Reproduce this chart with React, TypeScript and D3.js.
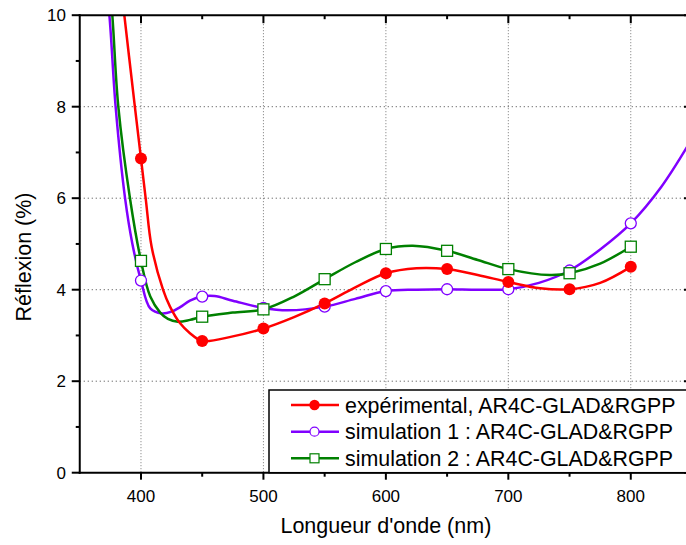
import React from "react";
import * as d3 from "d3";

// ---- data ----
const markerX = [400, 450, 500, 550, 600, 650, 700, 750, 800];
const expValues = [6.87, 2.88, 3.15, 3.7, 4.36, 4.45, 4.17, 4.01, 4.5];
const sim1Values = [4.2, 3.85, 3.6, 3.63, 3.97, 4.01, 4.01, 4.42, 5.45];
const sim2Values = [4.63, 3.41, 3.57, 4.23, 4.89, 4.85, 4.45, 4.36, 4.94];

// smooth curves (denser readings of the drawn lines)
const expCurveX = [380, 386.4, 395, 400, 404, 408.7, 418, 423.7, 431.8, 440, 450, 475, 500, 525, 550, 575, 600, 625, 650, 675, 700, 726, 750, 775, 800];
const expCurveY = [11.5, 10, 8, 6.87, 5.96, 4.94, 4.0, 3.63, 3.27, 3.05, 2.88, 2.98, 3.15, 3.4, 3.7, 4.05, 4.36, 4.47, 4.45, 4.32, 4.17, 4.03, 4.01, 4.15, 4.5];
const sim1CurveX = [368, 374.2, 379.3, 387, 393, 400, 407.6, 417, 425, 432, 440, 450, 460, 475, 500, 520, 550, 575, 600, 625, 650, 675, 700, 725, 750, 775, 800, 825, 850];
const sim1CurveY = [11.6, 10, 8, 6, 5.0, 4.2, 3.59, 3.48, 3.52, 3.62, 3.76, 3.85, 3.86, 3.76, 3.6, 3.55, 3.63, 3.8, 3.97, 4.0, 4.01, 4.0, 4.01, 4.15, 4.42, 4.88, 5.45, 6.25, 7.3];
const sim2CurveX = [370, 376.6, 381.5, 391, 400, 407.6, 415.7, 422, 430, 440, 450, 475, 500, 525, 550, 575, 600, 622, 650, 675, 700, 734, 750, 775, 800];
const sim2CurveY = [12.2, 10, 8, 6, 4.63, 3.85, 3.5, 3.36, 3.3, 3.34, 3.41, 3.5, 3.57, 3.85, 4.23, 4.6, 4.89, 4.96, 4.85, 4.65, 4.45, 4.32, 4.36, 4.57, 4.94];

const xMajorTicks = [400, 500, 600, 700, 800];
const xMinorTicks = [450, 550, 650, 750, 850];
const yMajorTicks = [0, 2, 4, 6, 8, 10];
const yMinorTicks = [1, 3, 5, 7, 9];
const xGrid = [400, 500, 600, 700, 800];
const yGrid = [2, 4, 6, 8];

const legendLabels = [
  "expérimental, AR4C-GLAD&RGPP",
  "simulation 1 : AR4C-GLAD&RGPP",
  "simulation 2 : AR4C-GLAD&RGPP",
];

const RED = "#ff0000";
const PURPLE = "#8000ff";
const GREEN = "#008000";
const FONT = "'Liberation Sans', Arial, sans-serif";

const W = 686;
const H = 545;
const L = 79.75;
const R = 692;
const T = 15.2;
const B = 472.7;

export default function App() {
  const x = d3.scaleLinear().domain([350, 850]).range([L, R]);
  const y = d3.scaleLinear().domain([0, 10]).range([B, T]);
  const line = d3
    .line<[number, number]>()
    .x((d) => x(d[0]))
    .y((d) => y(d[1]))
    .curve(d3.curveCatmullRom.alpha(0.5));

  const zip = (a: number[], b: number[]) => a.map((v, i) => [v, b[i]] as [number, number]);
  const expPath = line(zip(expCurveX, expCurveY)) || "";
  const sim1Path = line(zip(sim1CurveX, sim1CurveY)) || "";
  const sim2Path = line(zip(sim2CurveX, sim2CurveY)) || "";

  const legX = 269;
  const legY = 390;
  const rowY = [405, 431.7, 458.3];
  const symX = 314.5;

  return (
    <svg
      width={W}
      height={H}
      style={{ position: "absolute", left: 0, top: 0, background: "#fff" }}
      fontFamily={FONT}
    >
      <defs>
        <clipPath id="plotclip">
          <rect x={L} y={T} width={R - L} height={B - T} />
        </clipPath>
      </defs>
      <rect x={0} y={0} width={W} height={H} fill="#fff" />

      {/* grid */}
      {xGrid.map((v) => (
        <line key={"gx" + v} x1={x(v)} x2={x(v)} y1={T} y2={B} stroke="#777" strokeWidth={1} strokeDasharray="1,2" />
      ))}
      {yGrid.map((v) => (
        <line key={"gy" + v} x1={L} x2={R} y1={y(v)} y2={y(v)} stroke="#444" strokeWidth={1} strokeDasharray="1,3" />
      ))}

      {/* curves */}
      <g clipPath="url(#plotclip)" fill="none" strokeWidth={2.5}>
        <path d={sim1Path} stroke={PURPLE} />
        <path d={sim2Path} stroke={GREEN} />
        <path d={expPath} stroke={RED} />
      </g>

      {/* markers */}
      <g clipPath="url(#plotclip)">
        {markerX.map((v, i) => (
          <circle key={"m1" + i} cx={x(v)} cy={y(sim1Values[i])} r={5.5} fill="#fff" stroke={PURPLE} strokeWidth={1.3} />
        ))}
        {markerX.map((v, i) => (
          <rect key={"m2" + i} x={x(v) - 5.5} y={y(sim2Values[i]) - 5.5} width={11} height={11} fill="#fff" stroke={GREEN} strokeWidth={1.3} />
        ))}
        {markerX.map((v, i) => (
          <circle key={"m0" + i} cx={x(v)} cy={y(expValues[i])} r={6} fill={RED} />
        ))}
      </g>

      {/* axes frame */}
      <g stroke="#000" strokeWidth={2} fill="none">
        <line x1={L} x2={L} y1={T - 1} y2={B + 1} />
        <line x1={L - 1} x2={R + 1} y1={B} y2={B} />
        <line x1={L - 1} x2={R + 1} y1={T} y2={T} />
        <line x1={R} x2={R} y1={T - 1} y2={B + 1} />
      </g>

      {/* ticks */}
      <g stroke="#000" strokeWidth={2}>
        {yMajorTicks.map((v) => (
          <line key={"yt" + v} x1={L - 8} x2={L} y1={y(v)} y2={y(v)} />
        ))}
        {yMinorTicks.map((v) => (
          <line key={"ym" + v} x1={L - 4} x2={L} y1={y(v)} y2={y(v)} />
        ))}
        {yMajorTicks.map((v) => (
          <line key={"yr" + v} x1={R - 8} x2={R} y1={y(v)} y2={y(v)} />
        ))}
        {yMinorTicks.map((v) => (
          <line key={"yrm" + v} x1={R - 4} x2={R} y1={y(v)} y2={y(v)} />
        ))}
        {xMajorTicks.map((v) => (
          <line key={"xt" + v} x1={x(v)} x2={x(v)} y1={B} y2={B + 7} />
        ))}
        {xMinorTicks.map((v) => (
          <line key={"xm" + v} x1={x(v)} x2={x(v)} y1={B} y2={B + 4} />
        ))}
        {xMajorTicks.map((v) => (
          <line key={"xtt" + v} x1={x(v)} x2={x(v)} y1={T} y2={T + 8} />
        ))}
        {xMinorTicks.map((v) => (
          <line key={"xmt" + v} x1={x(v)} x2={x(v)} y1={T} y2={T + 4} />
        ))}
      </g>

      {/* tick labels */}
      <g fontSize={17} fill="#000">
        {yMajorTicks.map((v) => (
          <text key={"yl" + v} x={66} y={y(v)} dy="0.36em" textAnchor="end">
            {v}
          </text>
        ))}
        {xMajorTicks.map((v) => (
          <text key={"xl" + v} x={x(v)} y={501.5} textAnchor="middle">
            {v}
          </text>
        ))}
      </g>

      {/* axis titles */}
      <text x={(L + R) / 2} y={533} fontSize={21.5} textAnchor="middle" fill="#000">
        Longueur d'onde (nm)
      </text>
      <text
        transform={`translate(30.5, 257) rotate(-90)`}
        fontSize={21.5}
        textAnchor="middle"
        fill="#000"
      >
        Réflexion (%)
      </text>

      {/* legend */}
      <rect x={legX} y={legY} width={W - legX + 10} height={B - legY} fill="#fff" stroke="#000" strokeWidth={1.5} />
      {[RED, PURPLE, GREEN].map((c, i) => (
        <g key={"lg" + i}>
          <line x1={291} x2={339} y1={rowY[i]} y2={rowY[i]} stroke={c} strokeWidth={2.5} />
          {i === 0 && <circle cx={symX} cy={rowY[i]} r={5.2} fill={RED} />}
          {i === 1 && <circle cx={symX} cy={rowY[i]} r={4.5} fill="#fff" stroke={PURPLE} strokeWidth={1.2} />}
          {i === 2 && (
            <rect x={symX - 4.5} y={rowY[i] - 4.5} width={9} height={9} fill="#fff" stroke={GREEN} strokeWidth={1.2} />
          )}
          <text x={345} y={rowY[i]} dy="0.36em" fontSize={21.4} fill="#000">
            {legendLabels[i]}
          </text>
        </g>
      ))}
    </svg>
  );
}
